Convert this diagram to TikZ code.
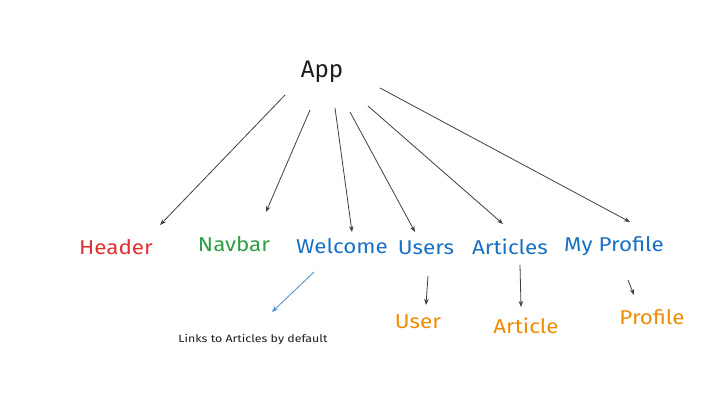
\documentclass[tikz,border=0pt]{standalone}
\usepackage{fontspec}
\setmainfont{Fira Sans}
\usetikzlibrary{arrows.meta}
\definecolor{xred}{HTML}{E03131}
\definecolor{xgreen}{HTML}{2F9E44}
\definecolor{xblue}{HTML}{1971C2}
\definecolor{xorange}{HTML}{F08C00}
\definecolor{xdark}{HTML}{1E1E1E}
\begin{document}
\begin{tikzpicture}[x=1pt,y=-1pt,
  lbl/.style={inner sep=0pt,font=\fontsize{20}{23}\selectfont,xscale=1.12},
  conn/.style={draw=xdark!85,line width=0.8pt,-{Stealth[length=6pt,width=4.5pt]}},
  bconn/.style={draw=xblue!80,line width=0.8pt,-{Stealth[length=6pt,width=4.5pt]}}]
\useasboundingbox (0,0) rectangle (719,416);
\fill[white] (0,0) rectangle (719,416);
\node[inner sep=0pt,font=\fontsize{24}{27}\selectfont,text=xdark] (app) at (322,72) {App};
\node[lbl,text=xred] (header) at (116,247) {Header};
\node[lbl,text=xgreen] (navbar) at (234,244) {Navbar};
\node[lbl,text=xblue] (welcome) at (342,246) {Welcome};
\node[lbl,text=xblue] (users) at (426,248) {Users};
\node[lbl,text=xblue] (articles) at (510,247) {Articles};
\node[lbl,text=xblue] (myprofile) at (614,246) {My Profile};
\node[lbl,text=xorange] (user) at (418,322) {User};
\node[lbl,text=xorange] (article) at (526,326) {Article};
\node[lbl,text=xorange] (profile) at (652,317) {Profile};
\node[inner sep=0pt,font=\fontsize{10.5}{12}\selectfont,xscale=1.18,text=xdark] (note) at (253,340) {Links to Articles by default};
% connector end points
\coordinate (s1) at (285,95);  \coordinate (e1) at (160,225);
\coordinate (s2) at (310,110); \coordinate (e2) at (266,212);
\coordinate (s3) at (335,108); \coordinate (e3) at (352,232);
\coordinate (s4) at (350,112); \coordinate (e4) at (415,232);
\coordinate (s5) at (368,106); \coordinate (e5) at (503,224);
\coordinate (s6) at (380,88);  \coordinate (e6) at (630,222);
\coordinate (s7) at (314,272); \coordinate (e7) at (272,312);
\coordinate (s8) at (428,276); \coordinate (e8) at (426,305);
\coordinate (s9) at (520,265); \coordinate (e9) at (521,307);
\coordinate (s10) at (628,280); \coordinate (e10) at (634,295);
\draw[conn] (s1) -- (e1);
\draw[conn] (s2) -- (e2);
\draw[conn] (s3) -- (e3);
\draw[conn] (s4) -- (e4);
\draw[conn] (s5) -- (e5);
\draw[conn] (s6) -- (e6);
\draw[bconn] (s7) -- (e7);
\draw[conn] (s8) -- (e8);
\draw[conn] (s9) -- (e9);
\draw[conn] (s10) -- (e10);
\end{tikzpicture}
\end{document}
